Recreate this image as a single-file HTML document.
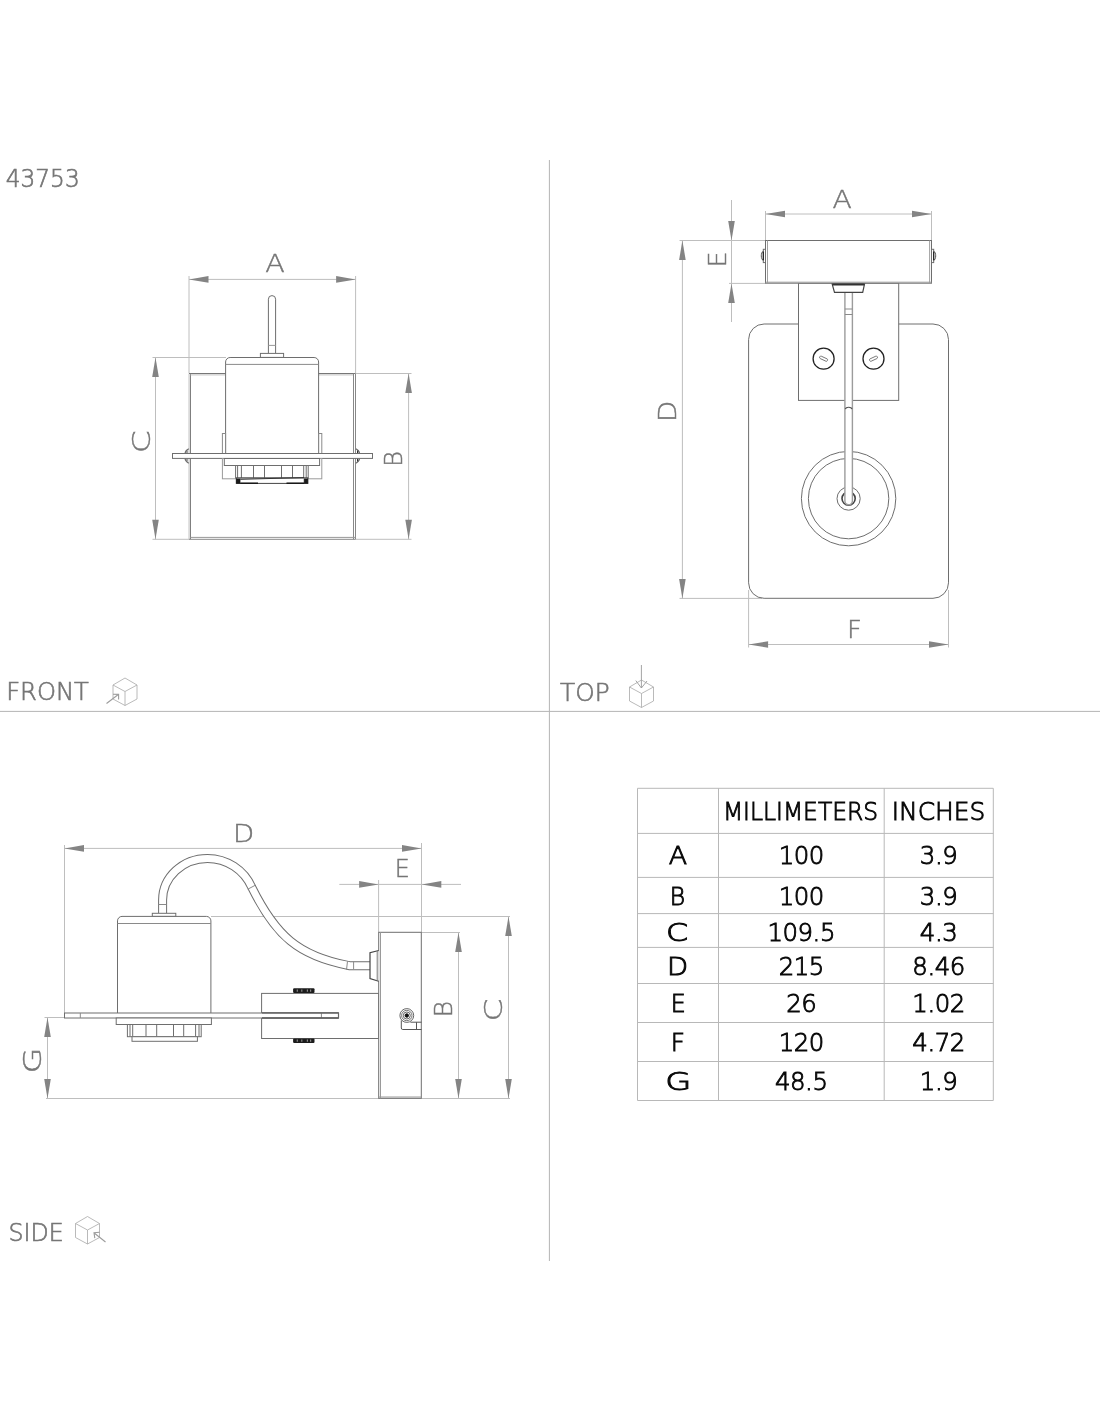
<!DOCTYPE html>
<html lang="en">
<head>
<meta charset="utf-8">
<title>43753 dimension drawing</title>
<style>
html,body{margin:0;padding:0;background:#fff;}
body{width:1100px;height:1422px;overflow:hidden;}
svg{display:block;will-change:transform;}
.t{font-family:"DejaVu Sans","Liberation Sans",sans-serif;font-weight:200;stroke-linejoin:miter;font-kerning:none;font-variant-ligatures:none;}
</style>
</head>
<body>
<svg width="1100" height="1422" viewBox="0 0 1100 1422">
<rect x="0" y="0" width="1100" height="1422" fill="#ffffff"/>
<g id="dividers">
<line x1="549.4" y1="160" x2="549.4" y2="1261" stroke="#b4b4b4" stroke-width="1" />
<line x1="0" y1="711.4" x2="1100" y2="711.4" stroke="#b4b4b4" stroke-width="1" />
</g>
<g id="labels">
<text class="t" font-size="25.24" fill="#767676" stroke="#767676" stroke-width="0.7" transform="scale(0.92 1)" x="6.21 22.30 38.38 54.47 70.56" y="187.4">43753</text>
<text class="t" font-size="25.24" fill="#767676" stroke="#767676" stroke-width="0.7" transform="translate(6.20 700.4) scale(0.9590 1)">FRONT</text>
<text class="t" font-size="25.24" fill="#767676" stroke="#767676" stroke-width="0.7" transform="translate(560.11 700.9) scale(0.9815 1)">TOP</text>
<text class="t" font-size="25.24" fill="#767676" stroke="#767676" stroke-width="0.7" transform="translate(8.55 1240.9) scale(0.9384 1)">SIDE</text>
<path d="M125,678.0 L137,685.0 L137,699.0 L125,705.5 L113,699.0 L113,685.0 Z M113,685.0 L125,691.5 L137,685.0 M125,691.5 L125,705.5" fill="none" stroke="#a8a8a8" stroke-width="0.8" />
<path d="M106.5,703.5 L118,694.8 M113,694.2 L118.6,694.4 L118.6,699.6" fill="none" stroke="#9c9c9c" stroke-width="1.1" />
<path d="M641.5,680.0 L653.5,687.0 L653.5,701.0 L641.5,707.5 L629.5,701.0 L629.5,687.0 Z M629.5,687.0 L641.5,693.5 L653.5,687.0 M641.5,693.5 L641.5,707.5" fill="none" stroke="#a8a8a8" stroke-width="0.8" />
<path d="M641.4,665 L641.4,688 M635.8,680.6 L641.4,688 L647,681" fill="none" stroke="#9a9a9a" stroke-width="0.9" />
<path d="M87.5,1216.5 L99.5,1223.5 L99.5,1237.5 L87.5,1244 L75.5,1237.5 L75.5,1223.5 Z M75.5,1223.5 L87.5,1230 L99.5,1223.5 M87.5,1230 L87.5,1244" fill="none" stroke="#a8a8a8" stroke-width="0.8" />
<path d="M105.5,1242 L94.2,1233 M99.6,1232.3 L94,1232.8 L94.8,1238.2" fill="none" stroke="#9c9c9c" stroke-width="1.1" />
</g>
<g id="front-view">
<line x1="189" y1="276" x2="189" y2="373" stroke="#bebebe" stroke-width="1" />
<line x1="355.6" y1="276" x2="355.6" y2="373" stroke="#bebebe" stroke-width="1" />
<line x1="189" y1="279.4" x2="355.6" y2="279.4" stroke="#bebebe" stroke-width="1" />
<polygon points="189,279.4 208.5,276.09999999999997 208.5,282.7" fill="#848484"/>
<polygon points="355.6,279.4 336.1,276.09999999999997 336.1,282.7" fill="#848484"/>
<text class="t" font-size="25.24" fill="#767676" stroke="#767676" stroke-width="0.45" transform="translate(265.27 272.4) scale(1.1323 1)">A</text>
<line x1="152.5" y1="357.5" x2="226" y2="357.5" stroke="#bebebe" stroke-width="1" />
<line x1="152.5" y1="539.3" x2="189" y2="539.3" stroke="#bebebe" stroke-width="1" />
<line x1="155.5" y1="357.5" x2="155.5" y2="539.3" stroke="#bebebe" stroke-width="1" />
<polygon points="155.5,357.5 152.2,377.0 158.8,377.0" fill="#848484"/>
<polygon points="155.5,539.3 152.2,519.8 158.8,519.8" fill="#848484"/>
<text class="t" font-size="25.24" fill="#767676" stroke="#767676" stroke-width="0.45" transform="translate(149.6 453.32) rotate(-90) scale(1.3100 1)">C</text>
<line x1="355.6" y1="373.5" x2="411.5" y2="373.5" stroke="#bebebe" stroke-width="1" />
<line x1="355.6" y1="539.3" x2="411.5" y2="539.3" stroke="#bebebe" stroke-width="1" />
<line x1="408.6" y1="373.5" x2="408.6" y2="539.3" stroke="#bebebe" stroke-width="1" />
<polygon points="408.6,373.5 405.3,393.0 411.90000000000003,393.0" fill="#848484"/>
<polygon points="408.6,539.3 405.3,519.8 411.90000000000003,519.8" fill="#848484"/>
<text class="t" font-size="25.24" fill="#767676" stroke="#767676" stroke-width="0.45" transform="translate(402.1 466.81) rotate(-90) scale(0.9438 1)">B</text>
<line x1="189" y1="373.5" x2="189" y2="539.3" stroke="#c4c4c4" stroke-width="1" />
<line x1="190.45" y1="373.5" x2="190.45" y2="539.3" stroke="#777" stroke-width="1" />
<line x1="190.45" y1="374.9" x2="353.5" y2="374.9" stroke="#c0c0c0" stroke-width="1" />
<line x1="189" y1="373.5" x2="355.5" y2="373.5" stroke="#777" stroke-width="1" />
<line x1="353.5" y1="373.5" x2="353.5" y2="539.3" stroke="#888" stroke-width="1" />
<line x1="355.5" y1="373.5" x2="355.5" y2="539.3" stroke="#888" stroke-width="1" />
<line x1="190.45" y1="537.4" x2="355.5" y2="537.4" stroke="#999" stroke-width="1" />
<line x1="189" y1="539.3" x2="355.5" y2="539.3" stroke="#888" stroke-width="1" />
<path d="M268.4,353.4 V299.2 A3.6,3.6 0 0 1 275.6,299.2 V353.4" fill="none" stroke="#6e6e6e" stroke-width="1" />
<line x1="268.4" y1="345.4" x2="275.6" y2="345.4" stroke="#9a9a9a" stroke-width="1" />
<rect x="260.4" y="353.4" width="23.2" height="4.0" fill="#fff" stroke="#6e6e6e" stroke-width="1"/>
<path d="M225.6,453.5 V362 A4.5,4.5 0 0 1 230.1,357.5 H314.1 A4.5,4.5 0 0 1 318.6,362 V453.5" fill="#fff" stroke="#6e6e6e" stroke-width="1" />
<line x1="225.6" y1="364.4" x2="318.6" y2="364.4" stroke="#8a8a8a" stroke-width="1" />
<rect x="222.4" y="433.5" width="3.2" height="20.0" fill="none" stroke="#8a8a8a" stroke-width="1"/>
<rect x="318.6" y="433.5" width="3.2" height="20.0" fill="none" stroke="#8a8a8a" stroke-width="1"/>
<path d="M188.8,448.8 C186.6,449.8 185.3,451.6 185,453.5 M185,458.5 C185.3,460.4 186.6,462.2 188.8,463.2" fill="none" stroke="#6e6e6e" stroke-width="1.2" />
<path d="M355.8,448.8 C358,449.8 359.3,451.6 359.6,453.5 M359.6,458.5 C359.3,460.4 358,462.2 355.8,463.2" fill="none" stroke="#6e6e6e" stroke-width="1.2" />
<line x1="357.6" y1="450.6" x2="357.6" y2="453.5" stroke="#333" stroke-width="1.2" />
<line x1="357.6" y1="458.5" x2="357.6" y2="461.4" stroke="#333" stroke-width="1.2" />
<line x1="187" y1="450.6" x2="187" y2="453.5" stroke="#666" stroke-width="1.2" />
<line x1="187" y1="458.5" x2="187" y2="461.4" stroke="#666" stroke-width="1.2" />
<rect x="172.5" y="453.5" width="200.0" height="4.9" fill="#fff" stroke="#6e6e6e" stroke-width="1"/>
<rect x="222.4" y="458.5" width="99.4" height="20.3" fill="none" stroke="#9a9a9a" stroke-width="1"/>
<rect x="224.3" y="458.5" width="95.3" height="7.0" fill="#fff" stroke="#6e6e6e" stroke-width="1"/>
<rect x="235.6" y="465.5" width="72.6" height="12.5" fill="#fff" stroke="#6e6e6e" stroke-width="1"/>
<line x1="237.6" y1="465.5" x2="237.6" y2="478" stroke="#6e6e6e" stroke-width="1" />
<line x1="241.4" y1="465.5" x2="241.4" y2="478" stroke="#6e6e6e" stroke-width="1" />
<line x1="253.5" y1="465.5" x2="253.5" y2="478" stroke="#6e6e6e" stroke-width="1" />
<line x1="264.5" y1="465.5" x2="264.5" y2="478" stroke="#6e6e6e" stroke-width="1" />
<line x1="281.5" y1="465.5" x2="281.5" y2="478" stroke="#6e6e6e" stroke-width="1" />
<line x1="292.5" y1="465.5" x2="292.5" y2="478" stroke="#6e6e6e" stroke-width="1" />
<line x1="303.7" y1="465.5" x2="303.7" y2="478" stroke="#6e6e6e" stroke-width="1" />
<line x1="306.2" y1="465.5" x2="306.2" y2="478" stroke="#6e6e6e" stroke-width="1" />
<rect x="236.3" y="478" width="71.6" height="5.4" fill="#fff" stroke="#444" stroke-width="1"/>
<rect x="236.6" y="479" width="3.4" height="4.2" fill="#1a1a1a" stroke="#1a1a1a" stroke-width="0.8"/>
<rect x="304.2" y="479" width="3.4" height="4.2" fill="#1a1a1a" stroke="#1a1a1a" stroke-width="0.8"/>
<line x1="240.3" y1="483.2" x2="258" y2="483.2" stroke="#111" stroke-width="1.4" />
<line x1="286.5" y1="483.2" x2="304" y2="483.2" stroke="#111" stroke-width="1.4" />
<line x1="240.3" y1="479.3" x2="304" y2="477.6" stroke="#333" stroke-width="1" />
</g>
<g id="top-view">
<line x1="765.5" y1="211" x2="765.5" y2="240.5" stroke="#bebebe" stroke-width="1" />
<line x1="931.5" y1="211" x2="931.5" y2="240.5" stroke="#bebebe" stroke-width="1" />
<line x1="765.5" y1="214" x2="931.5" y2="214" stroke="#bebebe" stroke-width="1" />
<polygon points="765.5,214 785.0,210.7 785.0,217.3" fill="#848484"/>
<polygon points="931.5,214 912.0,210.7 912.0,217.3" fill="#848484"/>
<text class="t" font-size="25.24" fill="#767676" stroke="#767676" stroke-width="0.45" transform="translate(832.38 207.9) scale(1.1195 1)">A</text>
<line x1="729" y1="283.4" x2="765.5" y2="283.4" stroke="#bebebe" stroke-width="1" />
<line x1="731.5" y1="200" x2="731.5" y2="322" stroke="#bebebe" stroke-width="1" />
<polygon points="731.5,240.5 728.2,221.0 734.8,221.0" fill="#848484"/>
<polygon points="731.5,283.4 728.2,302.9 734.8,302.9" fill="#848484"/>
<text class="t" font-size="25.24" fill="#767676" stroke="#767676" stroke-width="0.45" transform="translate(725.9 267.32) rotate(-90) scale(0.9931 1)">E</text>
<line x1="679.5" y1="240.5" x2="765.5" y2="240.5" stroke="#bebebe" stroke-width="1" />
<line x1="679.5" y1="598.4" x2="762" y2="598.4" stroke="#bebebe" stroke-width="1" />
<line x1="682.4" y1="240.5" x2="682.4" y2="598.4" stroke="#bebebe" stroke-width="1" />
<polygon points="682.4,240.5 679.1,260.0 685.6999999999999,260.0" fill="#848484"/>
<polygon points="682.4,598.4 679.1,578.9 685.6999999999999,578.9" fill="#848484"/>
<text class="t" font-size="25.24" fill="#767676" stroke="#767676" stroke-width="0.45" transform="translate(676.2 422.12) rotate(-90) scale(1.0905 1)">D</text>
<line x1="748.6" y1="590" x2="748.6" y2="647.5" stroke="#bebebe" stroke-width="1" />
<line x1="948.5" y1="590" x2="948.5" y2="647.5" stroke="#bebebe" stroke-width="1" />
<line x1="748.6" y1="644.5" x2="948.5" y2="644.5" stroke="#bebebe" stroke-width="1" />
<polygon points="748.6,644.5 768.1,641.2 768.1,647.8" fill="#848484"/>
<polygon points="948.5,644.5 929.0,641.2 929.0,647.8" fill="#848484"/>
<text class="t" font-size="25.24" fill="#767676" stroke="#767676" stroke-width="0.45" transform="translate(847.07 638.4) scale(1.0236 1)">F</text>
<rect x="748.6" y="324" width="199.9" height="274.3" rx="15.5" fill="none" stroke="#6e6e6e" stroke-width="1"/>
<rect x="798.5" y="283.2" width="100.2" height="117.2" fill="#fff" stroke="#6e6e6e" stroke-width="1"/>
<rect x="765.5" y="240.5" width="166.0" height="42.7" fill="#fff" stroke="#6e6e6e" stroke-width="1"/>
<line x1="767.5" y1="240.5" x2="767.5" y2="283.2" stroke="#a0a0a0" stroke-width="1" />
<line x1="929.6" y1="240.5" x2="929.6" y2="283.2" stroke="#a0a0a0" stroke-width="1" />
<line x1="765.5" y1="282.2" x2="931.5" y2="282.2" stroke="#9a9a9a" stroke-width="1" />
<rect x="763.3" y="249.3" width="2.2" height="13.3" fill="#fff" stroke="#6e6e6e" stroke-width="1"/>
<rect x="931.5" y="249.3" width="2.2" height="13.3" fill="#fff" stroke="#6e6e6e" stroke-width="1"/>
<path d="M763.4,251.2 C760.6,252.2 760.6,259.5 763.4,260.5" fill="#fff" stroke="#555" stroke-width="1" />
<path d="M933.6,251.2 C936.4,252.2 936.4,259.5 933.6,260.5" fill="#fff" stroke="#555" stroke-width="1" />
<line x1="763.3" y1="251.4" x2="763.3" y2="260.3" stroke="#222" stroke-width="1.3" />
<line x1="933.7" y1="251.4" x2="933.7" y2="260.3" stroke="#222" stroke-width="1.3" />
<circle cx="848.6" cy="498.6" r="47.2" fill="none" stroke="#6e6e6e" stroke-width="1"/>
<circle cx="848.6" cy="498.6" r="40.2" fill="none" stroke="#6e6e6e" stroke-width="1"/>
<circle cx="848.6" cy="498.6" r="11.6" fill="none" stroke="#6e6e6e" stroke-width="1"/>
<circle cx="848.6" cy="498.6" r="6.6" fill="none" stroke="#444" stroke-width="1.6"/>
<path d="M844.9,292.5 V501 A3.75,3.75 0 0 0 852.4,501 V292.5" fill="#fff" stroke="#9c9c9c" stroke-width="1.4" />
<path d="M845.3,409.2 C846,406.6 851.3,406.6 852,409.2" fill="none" stroke="#555" stroke-width="1.1" />
<line x1="844.9" y1="309" x2="852.4" y2="309" stroke="#8a8a8a" stroke-width="1" />
<line x1="844.9" y1="314.5" x2="852.4" y2="314.5" stroke="#8a8a8a" stroke-width="1" />
<path d="M832.2,284.2 H864.5 L862.7,292.4 H834.5 Z" fill="#fff" stroke="#444" stroke-width="1.2" />
<line x1="832.5" y1="284.6" x2="864.2" y2="284.6" stroke="#333" stroke-width="1.6" />
<circle cx="823.6" cy="358.7" r="10.5" fill="#fff" stroke="#222" stroke-width="1.3"/>
<rect x="819.4" y="357.4" width="8.4" height="2.6" rx="1" fill="none" stroke="#666" stroke-width="0.8" transform="rotate(25 823.6 358.7)"/>
<circle cx="873.5" cy="358.7" r="10.5" fill="#fff" stroke="#222" stroke-width="1.3"/>
<rect x="869.3" y="357.4" width="8.4" height="2.6" rx="1" fill="none" stroke="#666" stroke-width="0.8" transform="rotate(-25 873.5 358.7)"/>
</g>
<g id="side-view">
<line x1="64.5" y1="845" x2="64.5" y2="1013" stroke="#bebebe" stroke-width="1" />
<line x1="421.5" y1="843" x2="421.5" y2="932.3" stroke="#bebebe" stroke-width="1" />
<line x1="64.5" y1="848.4" x2="421.5" y2="848.4" stroke="#bebebe" stroke-width="1" />
<polygon points="64.5,848.4 84.0,845.1 84.0,851.6999999999999" fill="#848484"/>
<polygon points="421.5,848.4 402.0,845.1 402.0,851.6999999999999" fill="#848484"/>
<text class="t" font-size="25.24" fill="#767676" stroke="#767676" stroke-width="0.45" transform="translate(232.88 841.9) scale(1.0905 1)">D</text>
<line x1="378.6" y1="880" x2="378.6" y2="932.3" stroke="#bebebe" stroke-width="1" />
<line x1="339.3" y1="884.4" x2="461" y2="884.4" stroke="#bebebe" stroke-width="1" />
<polygon points="378.6,884.4 359.1,881.1 359.1,887.6999999999999" fill="#848484"/>
<polygon points="421.8,884.4 441.3,881.1 441.3,887.6999999999999" fill="#848484"/>
<text class="t" font-size="25.24" fill="#767676" stroke="#767676" stroke-width="0.45" transform="translate(394.82 877.4) scale(0.9460 1)">E</text>
<line x1="211" y1="916.5" x2="510" y2="916.5" stroke="#bebebe" stroke-width="1" />
<line x1="46" y1="1098.5" x2="510" y2="1098.5" stroke="#bebebe" stroke-width="1" />
<line x1="508.5" y1="916.5" x2="508.5" y2="1098.5" stroke="#bebebe" stroke-width="1" />
<polygon points="508.5,916.5 505.2,936.0 511.8,936.0" fill="#848484"/>
<polygon points="508.5,1098.5 505.2,1079.0 511.8,1079.0" fill="#848484"/>
<text class="t" font-size="25.24" fill="#767676" stroke="#767676" stroke-width="0.45" transform="translate(502.1 1021.52) rotate(-90) scale(1.3100 1)">C</text>
<line x1="421.5" y1="932.5" x2="460" y2="932.5" stroke="#bebebe" stroke-width="1" />
<line x1="458.5" y1="932.5" x2="458.5" y2="1098.5" stroke="#bebebe" stroke-width="1" />
<polygon points="458.5,932.5 455.2,952.0 461.8,952.0" fill="#848484"/>
<polygon points="458.5,1098.5 455.2,1079.0 461.8,1079.0" fill="#848484"/>
<text class="t" font-size="25.24" fill="#767676" stroke="#767676" stroke-width="0.45" transform="translate(452.4 1017.34) rotate(-90) scale(0.9865 1)">B</text>
<line x1="44.5" y1="1017.5" x2="64.5" y2="1017.5" stroke="#bebebe" stroke-width="1" />
<line x1="47.5" y1="1017.5" x2="47.5" y2="1098.5" stroke="#bebebe" stroke-width="1" />
<polygon points="47.5,1017.5 44.2,1037.0 50.8,1037.0" fill="#848484"/>
<polygon points="47.5,1098.5 44.2,1079.0 50.8,1079.0" fill="#848484"/>
<text class="t" font-size="25.24" fill="#767676" stroke="#767676" stroke-width="0.45" transform="translate(41.1 1073.57) rotate(-90) scale(1.3241 1)">G</text>
<path d="M162.6,913.2 V900 A44.9,41.6 0 0 1 207.5,858.4 A48.4,48.4 0 0 1 251.75,887.25 C275.83,935.85 298.39,955.68 347.7,965.3 L349.5,965.65 H370" fill="none" stroke="#6e6e6e" stroke-width="9" stroke-linecap="butt"/>
<path d="M162.6,913.2 V900 A44.9,41.6 0 0 1 207.5,858.4 A48.4,48.4 0 0 1 251.75,887.25 C275.83,935.85 298.39,955.68 347.7,965.3 L349.5,965.65 H370" fill="none" stroke="#fff" stroke-width="7" stroke-linecap="butt"/>
<line x1="158.5" y1="904.5" x2="166.5" y2="904.5" stroke="#8a8a8a" stroke-width="1" />
<line x1="247.8" y1="889.2" x2="255" y2="885.4" stroke="#8a8a8a" stroke-width="1" />
<line x1="347.5" y1="961.2" x2="346.5" y2="969.8" stroke="#8a8a8a" stroke-width="1" />
<line x1="353.6" y1="961.5" x2="353.6" y2="969.5" stroke="#8a8a8a" stroke-width="1" />
<rect x="152.3" y="913.3" width="23.5" height="3.1" fill="#fff" stroke="#6e6e6e" stroke-width="1"/>
<path d="M117.5,1013 V920.9 A4.5,4.5 0 0 1 122,916.4 H206.4 A4.5,4.5 0 0 1 210.9,920.9 V1013" fill="#fff" stroke="#6e6e6e" stroke-width="1" />
<line x1="117.5" y1="923.5" x2="210.9" y2="923.5" stroke="#8a8a8a" stroke-width="1" />
<rect x="261.6" y="993.4" width="117.1" height="45.1" fill="#fff" stroke="#6e6e6e" stroke-width="1"/>
<rect x="64.5" y="1013" width="274.0" height="5" fill="#fff" stroke="#6e6e6e" stroke-width="1"/>
<line x1="80.3" y1="1013" x2="80.3" y2="1018" stroke="#8a8a8a" stroke-width="1" />
<line x1="321.4" y1="1013" x2="321.4" y2="1018" stroke="#8a8a8a" stroke-width="1" />
<line x1="262" y1="1012.9" x2="338.5" y2="1012.9" stroke="#555" stroke-width="1.3" />
<line x1="262" y1="1018" x2="338.5" y2="1018" stroke="#555" stroke-width="1.3" />
<line x1="338.5" y1="1012.5" x2="338.5" y2="1018.4" stroke="#666" stroke-width="1.2" />
<rect x="293.1" y="988.3" width="21.4" height="4.6" rx="1" fill="#1c1c1c"/>
<line x1="297.3" y1="989.5" x2="297.3" y2="991.6999999999999" stroke="#8a8a8a" stroke-width="1.2" />
<line x1="301.8" y1="989.5" x2="301.8" y2="991.6999999999999" stroke="#8a8a8a" stroke-width="1.2" />
<line x1="307.4" y1="989.5" x2="307.4" y2="991.6999999999999" stroke="#8a8a8a" stroke-width="1.2" />
<line x1="310.6" y1="989.5" x2="310.6" y2="991.6999999999999" stroke="#8a8a8a" stroke-width="1.2" />
<rect x="293.1" y="1038.4" width="21.4" height="4.6" rx="1" fill="#1c1c1c"/>
<line x1="297.3" y1="1039.6000000000001" x2="297.3" y2="1041.8000000000002" stroke="#8a8a8a" stroke-width="1.2" />
<line x1="301.8" y1="1039.6000000000001" x2="301.8" y2="1041.8000000000002" stroke="#8a8a8a" stroke-width="1.2" />
<line x1="307.4" y1="1039.6000000000001" x2="307.4" y2="1041.8000000000002" stroke="#8a8a8a" stroke-width="1.2" />
<line x1="310.6" y1="1039.6000000000001" x2="310.6" y2="1041.8000000000002" stroke="#8a8a8a" stroke-width="1.2" />
<rect x="116.2" y="1018" width="95.2" height="6.5" fill="#fff" stroke="#6e6e6e" stroke-width="1"/>
<rect x="127.4" y="1024.5" width="73.8" height="12.2" fill="#fff" stroke="#6e6e6e" stroke-width="1"/>
<line x1="130" y1="1024.5" x2="130" y2="1036.7" stroke="#6e6e6e" stroke-width="1" />
<line x1="132.7" y1="1024.5" x2="132.7" y2="1036.7" stroke="#6e6e6e" stroke-width="1" />
<line x1="146" y1="1024.5" x2="146" y2="1036.7" stroke="#6e6e6e" stroke-width="1" />
<line x1="156.7" y1="1024.5" x2="156.7" y2="1036.7" stroke="#6e6e6e" stroke-width="1" />
<line x1="173.5" y1="1024.5" x2="173.5" y2="1036.7" stroke="#6e6e6e" stroke-width="1" />
<line x1="183.7" y1="1024.5" x2="183.7" y2="1036.7" stroke="#6e6e6e" stroke-width="1" />
<line x1="195.6" y1="1024.5" x2="195.6" y2="1036.7" stroke="#6e6e6e" stroke-width="1" />
<line x1="199" y1="1024.5" x2="199" y2="1036.7" stroke="#6e6e6e" stroke-width="1" />
<rect x="132" y="1036.7" width="65.4" height="4.6" fill="#fff" stroke="#6e6e6e" stroke-width="1"/>
<rect x="378.7" y="932.3" width="42.6" height="166.0" fill="#fff" stroke="#6e6e6e" stroke-width="1"/>
<line x1="380.5" y1="932.3" x2="380.5" y2="1098.3" stroke="#9a9a9a" stroke-width="1" />
<line x1="378.7" y1="1097" x2="421.3" y2="1097" stroke="#9a9a9a" stroke-width="1" />
<path d="M378.7,950.5 L370,952.6 V978.6 L378.7,981.3" fill="#fff" stroke="#444" stroke-width="1.2" />
<line x1="377.2" y1="951" x2="377.2" y2="981" stroke="#777" stroke-width="1" />
<circle cx="406.8" cy="1015.5" r="6.9" fill="#fff" stroke="#555" stroke-width="0.9"/>
<circle cx="406.8" cy="1015.5" r="5.2" fill="none" stroke="#666" stroke-width="0.9"/>
<circle cx="406.8" cy="1015.5" r="3.5" fill="none" stroke="#555" stroke-width="0.9"/>
<circle cx="406.8" cy="1015.5" r="1.7" fill="#111" stroke="#111" stroke-width="1"/>
<path d="M401.3,1020.4 V1028 Q401.3,1029.5 402.8,1029.5 H421.5 M416.5,1022.2 V1029.5 M410.4,1022.2 H421.5" fill="none" stroke="#555" stroke-width="1" />
</g>
<g id="dimension-table">
<line x1="637.5" y1="788.3" x2="993.3" y2="788.3" stroke="#b8b8b8" stroke-width="1" />
<line x1="637.5" y1="833.4" x2="993.3" y2="833.4" stroke="#b8b8b8" stroke-width="1" />
<line x1="637.5" y1="877.4" x2="993.3" y2="877.4" stroke="#b8b8b8" stroke-width="1" />
<line x1="637.5" y1="913.6" x2="993.3" y2="913.6" stroke="#b8b8b8" stroke-width="1" />
<line x1="637.5" y1="947.4" x2="993.3" y2="947.4" stroke="#b8b8b8" stroke-width="1" />
<line x1="637.5" y1="983.5" x2="993.3" y2="983.5" stroke="#b8b8b8" stroke-width="1" />
<line x1="637.5" y1="1022.5" x2="993.3" y2="1022.5" stroke="#b8b8b8" stroke-width="1" />
<line x1="637.5" y1="1061.5" x2="993.3" y2="1061.5" stroke="#b8b8b8" stroke-width="1" />
<line x1="637.5" y1="1100.5" x2="993.3" y2="1100.5" stroke="#b8b8b8" stroke-width="1" />
<line x1="637.5" y1="788.3" x2="637.5" y2="1100.5" stroke="#b8b8b8" stroke-width="1" />
<line x1="718.5" y1="788.3" x2="718.5" y2="1100.5" stroke="#b8b8b8" stroke-width="1" />
<line x1="884.2" y1="788.3" x2="884.2" y2="1100.5" stroke="#b8b8b8" stroke-width="1" />
<line x1="993.3" y1="788.3" x2="993.3" y2="1100.5" stroke="#b8b8b8" stroke-width="1" />
<text class="t" font-size="24.42" fill="#080808" stroke="#080808" stroke-width="0.9" transform="translate(722.89 819.8) scale(0.9579 1)">MILLIMETERS</text>
<text class="t" font-size="24.42" fill="#080808" stroke="#080808" stroke-width="0.9" transform="translate(891.74 819.8) scale(1.0190 1)">INCHES</text>
<text class="t" font-size="24.42" fill="#080808" stroke="#080808" stroke-width="0.9" transform="translate(668.75 864.4) scale(1.1012 1)">A</text>
<text class="t" font-size="24.42" fill="#080808" stroke="#080808" stroke-width="0.9" x="778.63 793.63 808.63" y="864.4">100</text>
<text class="t" font-size="24.42" fill="#080808" stroke="#080808" stroke-width="0.9" x="919.78 934.92 942.28" y="864.4">3.9</text>
<text class="t" font-size="24.42" fill="#080808" stroke="#080808" stroke-width="0.9" transform="translate(669.76 904.6) scale(0.9624 1)">B</text>
<text class="t" font-size="24.42" fill="#080808" stroke="#080808" stroke-width="0.9" x="778.63 793.63 808.63" y="904.6">100</text>
<text class="t" font-size="24.42" fill="#080808" stroke="#080808" stroke-width="0.9" x="919.78 934.92 942.28" y="904.6">3.9</text>
<text class="t" font-size="24.42" fill="#080808" stroke="#080808" stroke-width="0.9" transform="translate(666.02 940.6) scale(1.2994 1)">C</text>
<text class="t" font-size="24.42" fill="#080808" stroke="#080808" stroke-width="0.9" x="767.38 782.38 797.38 812.52 819.88" y="940.6">109.5</text>
<text class="t" font-size="24.42" fill="#080808" stroke="#080808" stroke-width="0.9" x="919.78 934.92 942.28" y="940.6">4.3</text>
<text class="t" font-size="24.42" fill="#080808" stroke="#080808" stroke-width="0.9" transform="translate(667.11 974.9) scale(1.1237 1)">D</text>
<text class="t" font-size="24.42" fill="#080808" stroke="#080808" stroke-width="0.9" x="778.63 793.63 808.63" y="974.9">215</text>
<text class="t" font-size="24.42" fill="#080808" stroke="#080808" stroke-width="0.9" x="912.28 927.42 934.78 949.78" y="974.9">8.46</text>
<text class="t" font-size="24.42" fill="#080808" stroke="#080808" stroke-width="0.9" transform="translate(670.66 1012.1) scale(0.9730 1)">E</text>
<text class="t" font-size="24.42" fill="#080808" stroke="#080808" stroke-width="0.9" x="786.13 801.13" y="1012.1">26</text>
<text class="t" font-size="24.42" fill="#080808" stroke="#080808" stroke-width="0.9" x="912.28 927.42 934.78 949.78" y="1012.1">1.02</text>
<text class="t" font-size="24.42" fill="#080808" stroke="#080808" stroke-width="0.9" transform="translate(670.74 1051.2) scale(1.0083 1)">F</text>
<text class="t" font-size="24.42" fill="#080808" stroke="#080808" stroke-width="0.9" x="778.63 793.63 808.63" y="1051.2">120</text>
<text class="t" font-size="24.42" fill="#080808" stroke="#080808" stroke-width="0.9" x="912.28 927.42 934.78 949.78" y="1051.2">4.72</text>
<text class="t" font-size="24.42" fill="#080808" stroke="#080808" stroke-width="0.9" transform="translate(665.24 1090.4) scale(1.3793 1)">G</text>
<text class="t" font-size="24.42" fill="#080808" stroke="#080808" stroke-width="0.9" x="774.88 789.88 805.02 812.38" y="1090.4">48.5</text>
<text class="t" font-size="24.42" fill="#080808" stroke="#080808" stroke-width="0.9" x="919.78 934.92 942.28" y="1090.4">1.9</text>
</g>
</svg>
</body>
</html>
